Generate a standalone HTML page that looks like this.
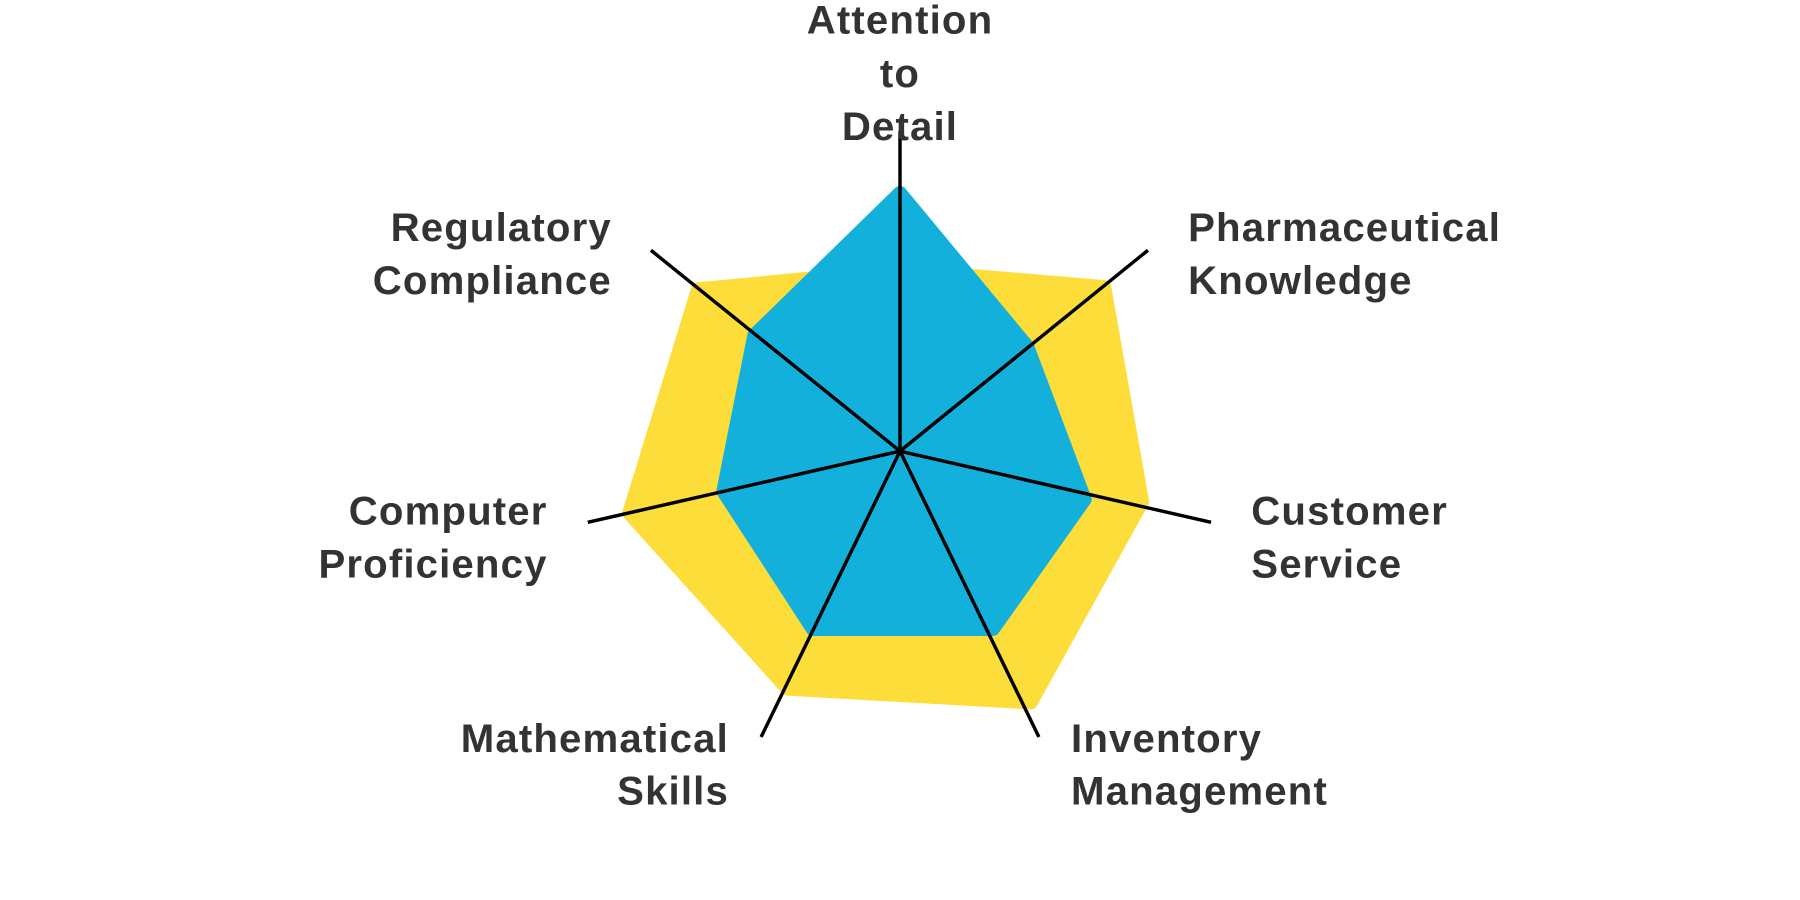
<!DOCTYPE html>
<html><head><meta charset="utf-8"><style>
html,body{margin:0;padding:0;background:#fff;}
svg{display:block;}
text{font-family:"Liberation Sans",sans-serif;font-weight:bold;font-size:35px;letter-spacing:1px;fill:#333;}
</style></head><body>
<svg width="1800" height="900" viewBox="0 0 1568 784" xmlns="http://www.w3.org/2000/svg">
<polygon points="784,235 962,250 995,437 898,612 686,600 548,447 608,252" fill="#FDDD3A" stroke="#FDDD3A" stroke-width="12" stroke-linejoin="round"/>
<polygon points="784,168 895,302 945,435 865,548 708,548 630,428 657,292" fill="#12B0DB" stroke="#12B0DB" stroke-width="12" stroke-linejoin="round"/>
<g stroke="#000" stroke-width="3" stroke-linecap="butt">
<line x1="784" y1="393" x2="784" y2="114"/>
<line x1="784" y1="393" x2="1000" y2="218"/>
<line x1="784" y1="393" x2="1055" y2="455"/>
<line x1="784" y1="393" x2="905" y2="642"/>
<line x1="784" y1="393" x2="663" y2="642"/>
<line x1="784" y1="393" x2="512" y2="455"/>
<line x1="784" y1="393" x2="567" y2="218"/>
</g>
<text x="784" y="29" text-anchor="middle">Attention</text>
<text x="784" y="76" text-anchor="middle">to</text>
<text x="784" y="122" text-anchor="middle">Detail</text>
<text x="533" y="210" text-anchor="end">Regulatory</text>
<text x="533" y="256" text-anchor="end">Compliance</text>
<text x="1035" y="210">Pharmaceutical</text>
<text x="1035" y="256">Knowledge</text>
<text x="477" y="457" text-anchor="end">Computer</text>
<text x="477" y="503" text-anchor="end">Proficiency</text>
<text x="1090" y="457">Customer</text>
<text x="1090" y="503">Service</text>
<text x="635" y="655" text-anchor="end">Mathematical</text>
<text x="635" y="701" text-anchor="end">Skills</text>
<text x="933" y="655">Inventory</text>
<text x="933" y="701">Management</text>
</svg>
</body></html>
